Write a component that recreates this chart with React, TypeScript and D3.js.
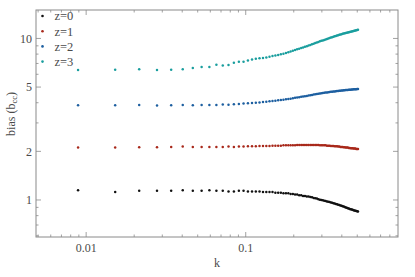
import * as d3 from 'd3';

const kValues = [
  0.0089, 0.0152, 0.0215, 0.0278, 0.0341, 0.0403, 0.0466, 0.0529, 0.0592, 0.0655,
  0.0718, 0.0780, 0.0843, 0.0906, 0.0969, 0.1032, 0.1095, 0.1157, 0.1220, 0.1283,
  0.1346, 0.1409, 0.1472, 0.1534, 0.1597, 0.1660, 0.1723, 0.1786, 0.1849, 0.1911,
  0.1974, 0.2037, 0.2100, 0.2163, 0.2226, 0.2288, 0.2351, 0.2414, 0.2477, 0.2540,
  0.2603, 0.2665, 0.2728, 0.2791, 0.2854, 0.2917, 0.2980, 0.3042, 0.3105, 0.3168,
  0.3231, 0.3294, 0.3357, 0.3419, 0.3482, 0.3545, 0.3608, 0.3671, 0.3734, 0.3796,
  0.3859, 0.3922, 0.3985, 0.4048, 0.4111, 0.4173, 0.4236, 0.4299, 0.4362, 0.4425,
  0.4488, 0.4550, 0.4613, 0.4676, 0.4739, 0.4802, 0.4865, 0.4927, 0.4990, 0.5053,
];

const biasZ0 = [
  1.15, 1.12, 1.14, 1.14, 1.14, 1.15, 1.14, 1.14, 1.15, 1.14,
  1.14, 1.13, 1.13, 1.14, 1.14, 1.13, 1.13, 1.13, 1.13, 1.12,
  1.12, 1.12, 1.12, 1.11, 1.11, 1.11, 1.10, 1.10, 1.10, 1.09,
  1.09, 1.08, 1.08, 1.07, 1.07, 1.06, 1.06, 1.05, 1.05, 1.045,
  1.04, 1.03, 1.025, 1.02, 1.01, 1.005, 1.0, 0.995, 0.99, 0.985,
  0.98, 0.975, 0.97, 0.965, 0.96, 0.955, 0.95, 0.945, 0.94, 0.935,
  0.93, 0.925, 0.92, 0.915, 0.91, 0.905, 0.9, 0.895, 0.89, 0.885,
  0.88, 0.877, 0.873, 0.869, 0.865, 0.861, 0.858, 0.855, 0.851, 0.848,
];

const biasZ1 = [
  2.11, 2.11, 2.12, 2.12, 2.13, 2.14, 2.13, 2.13, 2.13, 2.13,
  2.13, 2.14, 2.13, 2.14, 2.14, 2.15, 2.15, 2.15, 2.16, 2.16,
  2.16, 2.16, 2.17, 2.17, 2.17, 2.17, 2.18, 2.18, 2.18, 2.18,
  2.18, 2.18, 2.19, 2.19, 2.19, 2.19, 2.19, 2.19, 2.19, 2.19,
  2.19, 2.19, 2.19, 2.19, 2.19, 2.18, 2.18, 2.18, 2.18, 2.18,
  2.17, 2.17, 2.17, 2.16, 2.16, 2.16, 2.15, 2.15, 2.15, 2.14,
  2.14, 2.13, 2.13, 2.13, 2.12, 2.12, 2.11, 2.11, 2.11, 2.10,
  2.10, 2.09, 2.09, 2.09, 2.08, 2.08, 2.08, 2.07, 2.07, 2.07,
];

const biasZ2 = [
  3.86, 3.86, 3.87, 3.85, 3.86, 3.87, 3.86, 3.87, 3.87, 3.87,
  3.90, 3.89, 3.91, 3.93, 3.95, 3.97, 3.98, 4.0, 4.02, 4.04,
  4.06, 4.08, 4.10, 4.12, 4.14, 4.16, 4.18, 4.20, 4.22, 4.24,
  4.27, 4.29, 4.31, 4.33, 4.35, 4.37, 4.39, 4.41, 4.43, 4.45,
  4.47, 4.49, 4.51, 4.53, 4.55, 4.57, 4.58, 4.60, 4.61, 4.62,
  4.63, 4.65, 4.66, 4.67, 4.68, 4.69, 4.70, 4.71, 4.72, 4.73,
  4.74, 4.75, 4.76, 4.77, 4.78, 4.78, 4.79, 4.80, 4.80, 4.81,
  4.82, 4.82, 4.83, 4.83, 4.84, 4.84, 4.85, 4.85, 4.86, 4.86,
];

const biasZ3 = [
  6.37, 6.40, 6.45, 6.37, 6.40, 6.45, 6.56, 6.65, 6.65, 6.88,
  6.81, 6.84, 7.08, 7.18, 7.18, 7.31, 7.42, 7.50, 7.55, 7.58,
  7.62, 7.70, 7.78, 7.85, 7.90, 7.97, 8.05, 8.13, 8.22, 8.30,
  8.40, 8.48, 8.56, 8.64, 8.72, 8.80, 8.88, 8.96, 9.04, 9.12,
  9.20, 9.28, 9.36, 9.44, 9.52, 9.60, 9.66, 9.72, 9.78, 9.85,
  9.92, 9.99, 10.06, 10.12, 10.18, 10.24, 10.30, 10.36, 10.42, 10.48,
  10.53, 10.58, 10.63, 10.69, 10.73, 10.77, 10.81, 10.85, 10.89, 10.93,
  10.97, 11.01, 11.05, 11.09, 11.13, 11.17, 11.21, 11.24, 11.27, 11.30,
];

const seriesNames = ['z=0', 'z=1', 'z=2', 'z=3'];
const seriesColors = ['#111111', '#a8281a', '#1d5fa0', '#1a9e9e'];
const seriesValues = [biasZ0, biasZ1, biasZ2, biasZ3];

const xMajor = [0.01, 0.1];
const xMinor = [0.005, 0.006, 0.007, 0.008, 0.009, 0.02, 0.03, 0.04, 0.05, 0.06, 0.07, 0.08, 0.09,
  0.2, 0.3, 0.4, 0.5, 0.6, 0.7, 0.8];
const yMajor = [1, 2, 5, 10];
const yMinor = [0.6, 0.7, 0.8, 0.9, 3, 4, 6, 7, 8, 9];

const W = 415;
const H = 277;
const margin = { top: 10, right: 17, bottom: 40, left: 36 };

export default function App() {
  const x = d3.scaleLog().domain([0.00485, 0.9]).range([margin.left, W - margin.right]);
  const y = d3.scaleLog().domain([0.59, 15]).range([H - margin.bottom, margin.top]);
  const [x0, x1] = x.range();
  const [y0, y1] = y.range();
  const axisColor = '#8a8a8a';
  const textColor = '#4a4a4a';
  const font = 'Liberation Serif';

  return (
    <svg width={W} height={H} style={{ position: 'absolute', left: 0, top: 0, fontFamily: font }}>
      <rect x={0} y={0} width={W} height={H} fill="#fff" />
      {/* points */}
      {seriesValues.map((vals, si) => (
        <g key={si} fill={seriesColors[si]}>
          {vals.map((v, i) => (
            <circle key={i} cx={x(kValues[i])} cy={y(v)} r={1.25} />
          ))}
        </g>
      ))}
      {/* frame */}
      <rect x={x0} y={y1} width={x1 - x0} height={y0 - y1} fill="none" stroke={axisColor} strokeWidth={1} />
      {/* ticks on all four sides */}
      <g stroke={axisColor} strokeWidth={0.8}>
        {xMajor.map((t) => (
          <g key={'xM' + t}>
            <line x1={x(t)} x2={x(t)} y1={y0} y2={y0 - 5} />
            <line x1={x(t)} x2={x(t)} y1={y1} y2={y1 + 5} />
          </g>
        ))}
        {xMinor.filter((t) => x(t) > x0 + 1 && x(t) < x1 - 1).map((t) => (
          <g key={'xm' + t}>
            <line x1={x(t)} x2={x(t)} y1={y0} y2={y0 - 2.5} />
            <line x1={x(t)} x2={x(t)} y1={y1} y2={y1 + 2.5} />
          </g>
        ))}
        {yMajor.map((t) => (
          <g key={'yM' + t}>
            <line x1={x0} x2={x0 + 5} y1={y(t)} y2={y(t)} />
            <line x1={x1} x2={x1 - 5} y1={y(t)} y2={y(t)} />
          </g>
        ))}
        {yMinor.map((t) => (
          <g key={'ym' + t}>
            <line x1={x0} x2={x0 + 2.5} y1={y(t)} y2={y(t)} />
            <line x1={x1} x2={x1 - 2.5} y1={y(t)} y2={y(t)} />
          </g>
        ))}
      </g>
      {/* tick labels */}
      <g fill={textColor} fontSize={12}>
        {xMajor.map((t) => (
          <text key={'xl' + t} x={x(t)} y={252} textAnchor="middle">
            {String(t)}
          </text>
        ))}
        {yMajor.map((t) => (
          <text key={'yl' + t} x={32} y={y(t)} dy="0.35em" textAnchor="end">
            {String(t)}
          </text>
        ))}
        <text x={(x0 + x1) / 2} y={267} textAnchor="middle">k</text>
        <text transform={`translate(15,114) rotate(-90)`} textAnchor="middle">
          bias (b<tspan fontSize={8.5} dy={2}>cc</tspan><tspan dy={-2}>)</tspan>
        </text>
      </g>
      {/* legend */}
      <g fontSize={12.5} fill={textColor}>
        {seriesNames.map((name, i) => (
          <g key={name} transform={`translate(42.5,${16 + i * 15.2})`}>
            <circle cx={0} cy={0} r={1.3} fill={seriesColors[i]} />
            <text x={12} y={0} dy="0.35em">{name}</text>
          </g>
        ))}
      </g>
    </svg>
  );
}
